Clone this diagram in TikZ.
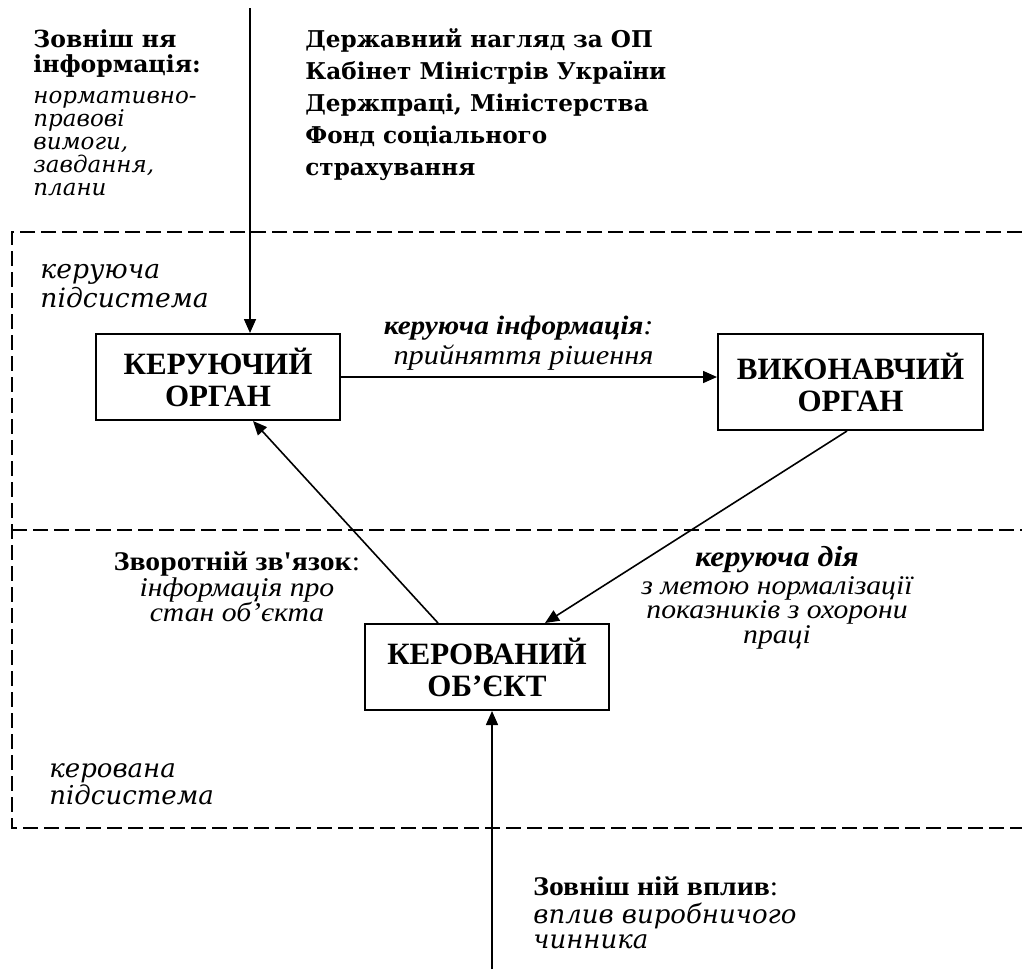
\documentclass[tikz,border=0pt]{standalone}
\usepackage{fontspec}
\setmainfont{Liberation Serif}
\newfontfamily\camb{DejaVu Serif}
\newfontfamily\wide[FakeStretch=1.1]{Liberation Serif}
\usetikzlibrary{positioning,arrows.meta}
\newcommand\tightskip{\lineskiplimit-20pt\relax}

\begin{document}
\begin{tikzpicture}[x=0.5pt,y=-0.5pt,
  org/.style={draw,line width=1pt,align=center,inner sep=0pt,font=\bfseries\fontsize{15.5}{16}\selectfont},
  a/.style={-{Triangle[length=7pt,width=6pt]},line width=0.8pt},
  dsh/.style={line width=0.75pt,dash pattern=on 7.5pt off 3pt},
  txt/.style={inner sep=0pt,align=left,anchor=base west},
  lbl/.style={inner sep=0pt,align=center,anchor=base,font=\wide\itshape\fontsize{13.5}{12.2}\selectfont\tightskip}]
\useasboundingbox (0,0) rectangle (1022,969);
% subsystems
\draw[dsh] (1022,232) -| (12,828) -- (1022,828);
\draw[dsh] (12,530) -- (1022,530);
% blocks
\node[org,minimum width=122pt,minimum height=43pt] (kor) at (218,377) {КЕРУЮЧИЙ\\ОРГАН};
\node[org,minimum width=132.5pt,minimum height=48pt] (vyk) at (850.5,382) {ВИКОНАВЧИЙ\\ОРГАН};
\node[org,minimum width=122pt,minimum height=43pt] (kob) at (487,667) {КЕРОВАНИЙ\\ОБ’ЄКТ};
% texts (anchored at the baseline of the last line)
\node[txt,font=\camb\bfseries\fontsize{11.75}{12.5}\selectfont] (zovn) at (33,72) {Зовніш ня\\інформація:};
\node[txt,font=\camb\itshape\fontsize{11.5}{11.5}\selectfont] (norm) at (33,195) {нормативно-\\правові\\вимоги,\\завдання,\\плани};
\node[txt,font=\camb\bfseries\fontsize{11.55}{15.9}\selectfont] (derzh) at (305,175) {Державний нагляд за ОП\\Кабінет Міністрів України\\Держпраці, Міністерства\\Фонд соціального\\страхування};
\node[txt,font=\camb\itshape\fontsize{13.3}{13}\selectfont] (kpid) at (40,307) {керуюча\\підсистема};
\node[txt,font=\camb\itshape\fontsize{13}{13.5}\selectfont] (kvpid) at (49,804) {керована\\підсистема};
\node[txt,font=\camb\itshape\fontsize{13}{12.5}\selectfont] (vplyv) at (533,948) {{\wide\upshape\fontsize{13.5}{14}\selectfont\textbf{Зовніш ній вплив}:}\\[1.5pt]вплив виробничого\\чинника};
\node[lbl] (zz) at (237,621) {{\upshape\textbf{Зворотній зв'язок}:}\\[1pt]інформація про\\стан об’єкта};
\node[lbl] (dia) at (777,643) {{\bfseries\fontsize{14.5}{12.2}\selectfont керуюча дія}\\[1.5pt]з метою нормалізації\\показників з охорони\\праці};
\node[txt,align=right,anchor=base east,font=\wide\itshape\fontsize{13.8}{15}\selectfont] (kinf) at (654,364) {{\bfseries\fontsize{13.3}{15}\selectfont керуюча інформація}:\\прийняття рішення};
% inputs
\coordinate (zv) at (250,8);
\coordinate (vv) at (492,969);
\draw[a] (zv) -- (zv |- kor.north);
\draw[a] (vv) -- (vv |- kob.south);
% links
\draw[a] (kor.east) -- (kor.east -| vyk.west);
\draw[a] ([xshift=-1.75pt]vyk.south) -- ([xshift=29pt]kob.north);
\draw[a] ([xshift=-24.5pt]kob.north) -- ([xshift=17.5pt]kor.south);
\end{tikzpicture}
\end{document}
